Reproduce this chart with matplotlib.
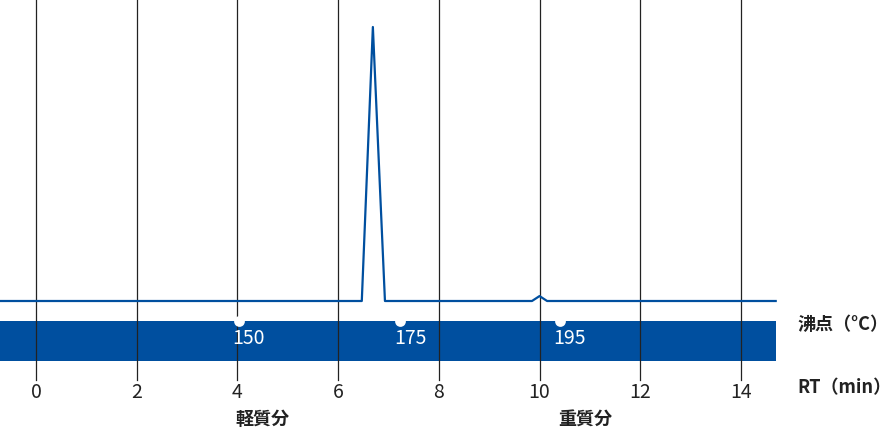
import matplotlib
matplotlib.use("Agg")
import matplotlib.pyplot as plt

plt.rcParams['font.family'] = ['Noto Sans CJK JP', 'DejaVu Sans']

# chromatogram (retention time in min, relative intensity)
rt = [-0.715, 6.47, 6.69, 6.93, 9.85, 10.0, 10.15, 14.69]
signal = [0, 0, 100, 0, 0, 1.8, 0, 0]

rt_ticks = [0, 2, 4, 6, 8, 10, 12, 14]
bp_pos = [4.03, 7.23, 10.4]
bp_labels = ["150", "175", "195"]
fractions = [("軽質分", 4.5), ("重質分", 10.9)]

blue = "#004f9f"
W, H = 890, 436
xmin, xmax = -0.715, 16.96

fig = plt.figure(figsize=(8.9, 4.36), dpi=100)
ax = fig.add_axes([0, 0, 1, 1])
ax.set_xlim(xmin, xmax)
ax.set_ylim(H, 0)
ax.axis("off")

# boiling point band
ax.fill_between([xmin, 14.70], 321, 361, color=blue, lw=0, zorder=1)

for t in rt_ticks:
    ax.plot([t, t], [0, 380], color="#222222", lw=0.9, zorder=2)
    ax.text(t, 392, str(t), ha="center", va="center", fontsize=14, color="#222222")

ax.scatter(bp_pos, [321] * 3, s=60, color="white", lw=0, zorder=3)
for p, lab in zip(bp_pos, bp_labels):
    ax.text(p + 0.2, 338, lab, ha="center", va="center", fontsize=14, color="white", zorder=4)

for lab, p in fractions:
    ax.text(p, 419, lab, ha="center", va="center", fontsize=13, fontweight="bold", color="#222222")

fig.text(797 / W, 1 - 324 / H, "沸点（°C）", ha="left", va="center", fontsize=13,
         fontweight="bold", color="#222222")
fig.text(797 / W, 1 - 388 / H, "RT（min）", ha="left", va="center", fontsize=13,
         fontweight="bold", color="#222222")

# signal on its own axes
bottom = (H - 301) / H
top = (H - 27) / H
ax2 = fig.add_axes([0, bottom, 1, top - bottom])
ax2.set_xlim(xmin, xmax)
ax2.set_ylim(0, 100)
ax2.axis("off")
ax2.plot(rt, signal, color=blue, lw=1.6, clip_on=False)

fig.savefig("out.png", dpi=100)
plt.close(fig)
